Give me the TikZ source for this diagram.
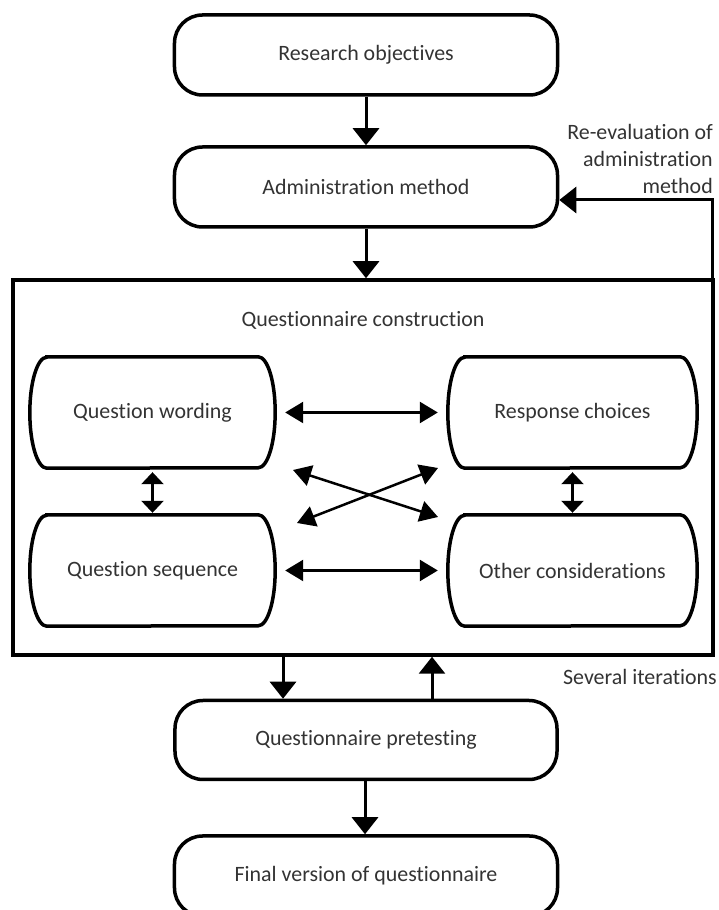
\documentclass[tikz,border=0pt]{standalone}
\usepackage{fontspec}
\setmainfont{Carlito}[Ligatures=NoCommon]
\usetikzlibrary{
    arrows.meta,
    calc,
    positioning
}
\definecolor{txtgray}{HTML}{333333}
\tikzset{stage/.style={draw=black, line width=3.5bp, rounded corners=28bp, minimum width=383bp, minimum height=80bp, text=txtgray, font=\fontsize{22}{27}\selectfont}}
\tikzset{part/.style={minimum width=245bp, minimum height=111bp, inner sep=0pt, text=txtgray, font=\fontsize{22}{27}\selectfont}}
\tikzset{lbl/.style={text=txtgray, font=\fontsize{22}{27}\selectfont, inner sep=0pt}}
\tikzset{flow/.style={line width=3bp, -{Triangle[length=17bp, width=26bp]}}}
\tikzset{link/.style={line width=2.5bp, {Triangle[length=18bp, width=21bp]}-{Triangle[length=18bp, width=21bp]}}}
\tikzset{shortlink/.style={line width=2.5bp, {Triangle[length=12bp, width=22bp]}-{Triangle[length=12bp, width=22bp]}}}

\begin{document}
\begin{tikzpicture}[x=1bp, y=1bp]
                        \path[use as bounding box, clip] (0, 0) rectangle (719, 910);

                        \node[stage] (ro) at (366, 855) {Research objectives};
                        \node[stage] (am) at (366, 723) {Administration method};

                        \node[draw=black, line width=3.5bp, minimum width=700bp, minimum height=375bp] (qc) at (363, 442.5) {};
                        \node[lbl] (qct) at (363, 590) {Questionnaire construction};

                        \node[part] (qw) at (152.5, 497.5) {Question wording};
                        \node[part, minimum width=249bp] (rc) at (572.5, 497.5) {Response choices};
                        \node[part] (qs) at (152.5, 339.5) {Question sequence};
                        \node[part, minimum width=249bp] (oc) at (572.5, 339.5) {Other considerations};

                        \node[stage, minimum width=382bp, minimum height=79bp] (pt) at (366, 170) {Questionnaire pretesting};
                        \node[stage] (fv) at (366, 34) {Final version of questionnaire};

                        \node[lbl, align=right, anchor=east] (re) at (713, 751) {Re-evaluation of\\administration\\method};
                        \node[lbl, anchor=east] (si) at (717, 233) {Several iterations};

                        \foreach \b in {qw, rc, qs, oc}
                            \draw[line width=3.5bp]
                            ([xshift=17bp]\b.north west) -- ([xshift=-17bp]\b.north east)
                            arc[start angle=90, end angle=0, x radius=17bp, y radius=55.5bp]
                            arc[start angle=0, end angle=-90, x radius=17bp, y radius=55.5bp]
                            -- ([xshift=17bp]\b.south west)
                            arc[start angle=270, end angle=180, x radius=17bp, y radius=55.5bp]
                            arc[start angle=180, end angle=90, x radius=17bp, y radius=55.5bp]
                            -- cycle;

                        \coordinate (fb) at (712, 710);
                        \coordinate (dn) at (283, 0);
                        \coordinate (up) at (432, 0);
                        \coordinate (x1) at (293, 440);
                        \coordinate (x2) at (438, 393);
                        \coordinate (x3) at (438, 442);
                        \coordinate (x4) at (297, 387);

                        \draw[flow] (ro) -- (am);
                        \draw[flow] (am) -- (am |- qc.north);
                        \draw[flow] (qc.north -| fb) -- (fb) -- (fb -| am.east);
                        \draw[flow] (dn |- qc.south) -- (dn |- pt.north);
                        \draw[flow] (up |- pt.north) -- (up |- qc.south);
                        \draw[flow] ([xshift=-1bp]pt.south) -- ([xshift=-1bp]fv.north);

                        \draw[link, shorten <=10bp, shorten >=10bp] (qw.east) -- (rc.west);
                        \draw[link, shorten <=10bp, shorten >=10bp] (qs.east) -- (oc.west);
                        \draw[link] (x1) -- (x2);
                        \draw[link] (x3) -- (x4);
                        \draw[shortlink, shorten <=4bp, shorten >=2bp] (qw.south) -- (qs.north);
                        \draw[shortlink, shorten <=4bp, shorten >=2bp] (rc.south) -- (oc.north);
\end{tikzpicture}
\end{document}
